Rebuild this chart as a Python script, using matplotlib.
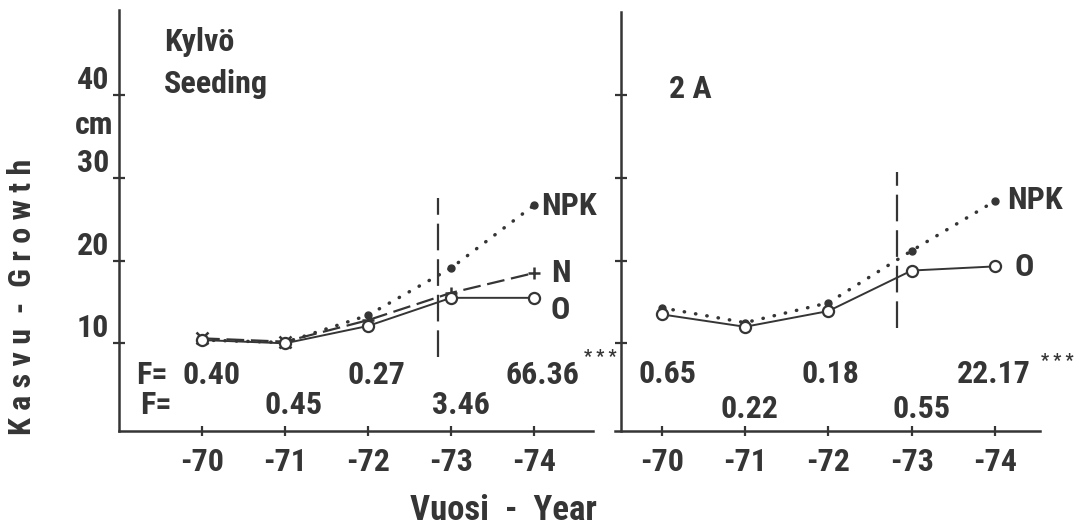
import matplotlib
matplotlib.use("Agg")
import matplotlib.pyplot as plt
from matplotlib import font_manager

# Growth (cm) by year, two sites
years = ["-70", "-71", "-72", "-73", "-74"]

seed_O = [10.4, 10.0, 12.1, 15.5, 15.5]
seed_N = [10.6, 10.2, 12.8, 16.1, 18.5]
seed_NPK = [10.4, 10.1, 13.4, 19.1, 26.7]
seed_N_markers = ["x", "x", "+", "+", "+"]

site2a_O = [13.5, 12.0, 13.9, 18.8, 19.3]
site2a_NPK = [14.3, 12.5, 14.9, 21.2, 27.2]

# F values printed under each panel (row 1 / row 2)
seed_F_top = ["0.40", "0.27", "66.36"]
seed_F_bottom = ["0.45", "3.46"]
site2a_F_top = ["0.65", "0.18", "22.17"]
site2a_F_bottom = ["0.22", "0.55"]

ytick_vals = [10, 20, 30, 40]

# pick a condensed bold face if one is around
fonts = font_manager.fontManager.ttflist
FAM, STRETCH = "DejaVu Sans", "normal"
for name in ("Liberation Sans Narrow", "Roboto Condensed", "Open Sans Condensed"):
    if any(f.name == name for f in fonts):
        FAM = name
        break
else:
    for name in ("Noto Sans", "Open Sans", "DejaVu Sans", "Roboto"):
        if any(f.name == name and f.stretch != "normal" for f in fonts):
            FAM, STRETCH = name, "condensed"
            break

INK = "#353535"
plt.rcParams.update({"font.family": FAM, "font.weight": "bold", "font.stretch": STRETCH,
                     "text.color": INK})

FS = 23
W, H = 1089, 525
fig = plt.figure(figsize=(W / 100, H / 100), dpi=100, facecolor="white")


def px_axes(x0, y0, x1, y1):
    return fig.add_axes([x0 / W, 1 - y1 / H, (x1 - x0) / W, (y1 - y0) / H])


def style(ax):
    for s in ("top", "right"):
        ax.spines[s].set_visible(False)
    for s in ("left", "bottom"):
        ax.spines[s].set_linewidth(1.8)
        ax.spines[s].set_color(INK)
    ax.set_ylim(-0.6, 50.3)
    ax.set_xticks(range(len(years)), years)
    ax.tick_params(axis="x", direction="inout", length=7, width=1.6, color=INK,
                   labelsize=FS, labelcolor=INK, pad=8)
    ax.tick_params(axis="y", direction="inout", length=9, width=1.6, color=INK,
                   labelsize=FS, labelcolor=INK, pad=3)
    ax.set_yticks(ytick_vals)
    ax.set_facecolor("none")


dot_style = dict(linestyle=(0, (0.1, 3.2)), lw=2.5, dash_capstyle="round", color=INK)
dash_style = dict(linestyle=(0, (8, 3)), lw=1.6, color=INK)
solid_style = dict(linestyle="-", lw=1.4, color=INK)
vline_style = dict(linestyle=(0, (12, 4)), lw=1.6, color=INK)

x = range(len(years))

# ---- left panel: seeding ----
ax1 = px_axes(119.4, 10, 593, 431)
style(ax1)
ax1.set_xlim(-0.995, 4.71)
ax1.set_yticklabels([str(v) for v in ytick_vals])
for lab in ax1.get_yticklabels():
    lab.set_va("bottom")
ax1.text(-0.0135, 36.4, "cm", transform=ax1.get_yaxis_transform(), ha="right", va="center",
         fontsize=FS)

ax1.plot(x, seed_NPK, **dot_style)
ax1.plot(x, seed_NPK, linestyle="none", marker="o", ms=5, color=INK)
ax1.plot(x, seed_N, **dash_style)
for xi, yi, m in zip(x, seed_N, seed_N_markers):
    ax1.plot(xi, yi, marker=m, ms=9, mew=1.8, color=INK, linestyle="none")
ax1.plot(x, seed_O, **solid_style, marker="o", ms=8, mfc="white", mec=INK, mew=1.6)
ax1.plot([2.84, 2.84], [8.4, 27.6], **vline_style)

ax1.text(4.08, 26.6, "NPK", fontsize=FS, va="center", ha="left")
ax1.text(4.2, 18.5, "N", fontsize=FS, va="center", ha="left")
ax1.text(4.2, 14.0, "O", fontsize=FS, va="center", ha="left")

ax1.text(-0.46, 46.4, "Kylvö", fontsize=FS, va="center", ha="left")
ax1.text(-0.46, 41.3, "Seeding", fontsize=FS, va="center", ha="left")

# F rows
ax1.text(-0.795, 6.2, "F=", fontsize=FS, va="center", ha="left")
ax1.text(-0.75, 2.6, "F=", fontsize=FS, va="center", ha="left")
for xi, s in zip([0.11, 2.1, 4.1], seed_F_top):
    ax1.text(xi, 6.2, s, fontsize=FS, va="center", ha="center")
for xi, s in zip([1.1, 3.12], seed_F_bottom):
    ax1.text(xi, 2.6, s, fontsize=FS, va="center", ha="center")
ax1.text(4.8, 8.4, "* * *", fontsize=13, va="center", ha="center")

# ---- right panel: 2A ----
ax2 = px_axes(615, 10, 1040, 431)
style(ax2)
ax2.set_xlim(-0.56, 4.54)
ax2.spines["left"].set_position(("data", -0.49))
ax2.spines["left"].set_bounds(-0.6, 50.0)
ax2.set_yticklabels([])

ax2.plot(x, site2a_NPK, **dot_style)
ax2.plot(x, site2a_NPK, linestyle="none", marker="o", ms=5, color=INK)
ax2.plot(x, site2a_O, **solid_style, marker="o", ms=8, mfc="white", mec=INK, mew=1.6)
ax2.plot([2.82, 2.82], [11.8, 30.7], **vline_style)

ax2.text(4.15, 27.3, "NPK", fontsize=FS, va="center", ha="left")
ax2.text(4.24, 19.2, "O", fontsize=FS, va="center", ha="left")
ax2.text(0.09, 40.7, "2 A", fontsize=FS, va="center", ha="left")

for xi, s in zip([0.076, 2.02, 3.98], site2a_F_top):
    ax2.text(xi, 6.3, s, fontsize=FS, va="center", ha="center")
for xi, s in zip([1.05, 3.12], site2a_F_bottom):
    ax2.text(xi, 2.0, s, fontsize=FS, va="center", ha="center")
ax2.text(4.75, 7.9, "* * *", fontsize=13, va="center", ha="center")

# axis titles
fig.text(22 / W, 1 - 297 / H, "K a s v u  -  G r o w t h", rotation=90, fontsize=23,
         ha="center", va="center")
fig.text(503 / W, 1 - 510 / H, "Vuosi  -  Year", fontsize=25, ha="center", va="center")

fig.savefig("out.png", dpi=100, facecolor="white")
